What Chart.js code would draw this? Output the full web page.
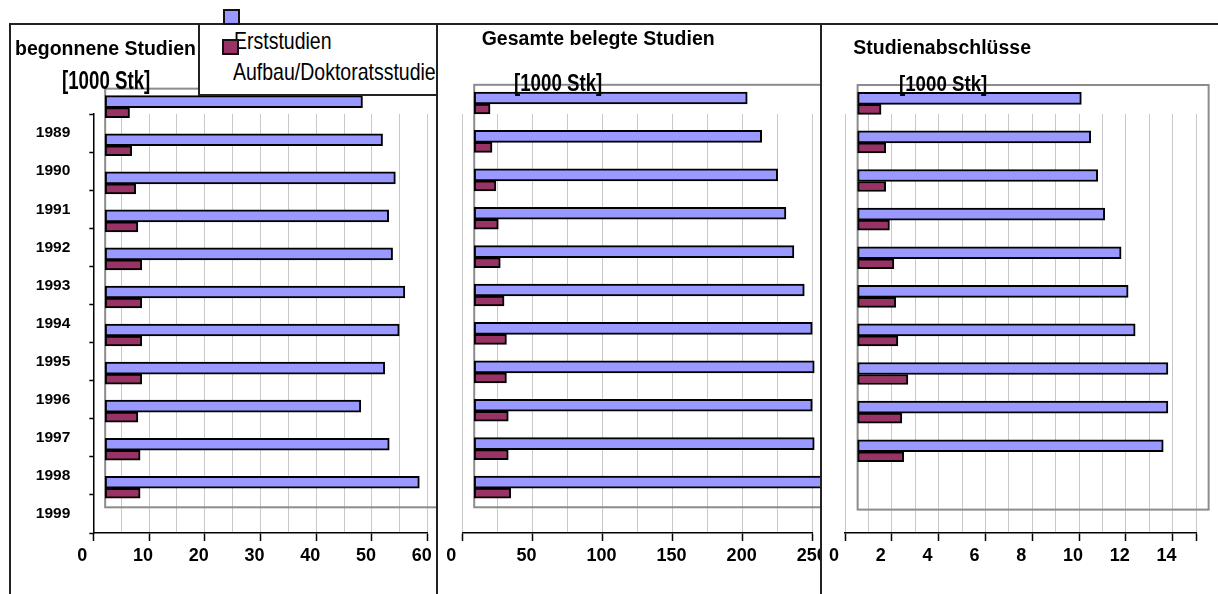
<!DOCTYPE html>
<html>
<head>
<meta charset="utf-8">
<script src="https://cdn.jsdelivr.net/npm/chart.js@4.4.1/dist/chart.umd.min.js"></script>
<style>
  html, body { margin: 0; padding: 0; background: #fff; }
  body { width: 1218px; height: 594px; position: relative; overflow: hidden; font-family: 'Liberation Sans', Arial, sans-serif; }
  .panel { position: absolute; top: 25px; height: 569px; overflow: hidden; }
  .panel canvas { position: absolute; top: -25px; }
  .line { position: absolute; background: #222; z-index: 3; }
  .txt { position: absolute; white-space: nowrap; line-height: 1; transform-origin: 0 0; color: #000; z-index: 5; }
  .title { font-weight: bold; font-size: 19.5px; transform: scaleY(1.08); }
  .unit { font-weight: bold; font-size: 18.7px; }
  #legend { position: absolute; left: 198px; top: 24px; width: 239px; height: 72px; background: #fff;
            border-left: 2px solid #222; border-bottom: 2px solid #222; box-sizing: border-box; overflow: hidden; z-index: 2; }
  #legend .txt { font-size: 19.5px; transform: scaleY(1.2); }
  .mark { position: absolute; width: 17px; height: 16px; box-sizing: border-box; border: 2px solid #111; z-index: 4; }
</style>
</head>
<body>

<div class="panel" style="left:11px; width:425px;"><canvas id="c1" width="1218" height="594" style="left:-11px"></canvas></div>
<div class="panel" style="left:438px; width:382px;"><canvas id="c2" width="1218" height="594" style="left:-438px"></canvas></div>
<div class="panel" style="left:822px; width:396px;"><canvas id="c3" width="1218" height="594" style="left:-822px"></canvas></div>

<div class="line" style="left:9px; top:23px; width:1209px; height:2px;"></div>
<div class="line" style="left:9px; top:23px; width:2px; height:571px;"></div>
<div class="line" style="left:436px; top:23px; width:2px; height:571px;"></div>
<div class="line" style="left:820px; top:23px; width:2px; height:571px;"></div>

<div id="legend">
  <div class="txt" id="leg0" style="left:34px; top:6px;"></div>
  <div class="txt" id="leg1" style="left:33px; top:37px;"></div>
</div>
<div class="mark" style="left:223px; top:9px; background:#9999ff;"></div>
<div class="mark" style="left:222px; top:39px; background:#993366;"></div>

<div class="txt title" style="left:15px; top:37.7px;">begonnene Studien</div>
<div class="txt unit" style="left:62px; top:67.5px; transform:scaleY(1.38);">[1000 Stk]</div>
<div class="txt title" style="left:481.7px; top:28.2px;">Gesamte belegte Studien</div>
<div class="txt unit" style="left:514px; top:71.9px; transform:scaleY(1.25);">[1000 Stk]</div>
<div class="txt title" style="left:853.3px; top:36.7px;">Studienabschlüsse</div>
<div class="txt unit" style="left:899px; top:73.4px; transform:scaleY(1.22);">[1000 Stk]</div>

<script>
const years = ['1989', '1990', '1991', '1992', '1993', '1994', '1995', '1996', '1997', '1998', '1999'];
const seriesNames = ['Erststudien', 'Aufbau/Doktoratsstudie'];

// begonnene Studien [1000 Stk]
const begonnenErst = [48.3, 51.9, 54.2, 53.0, 53.7, 55.9, 54.9, 52.3, 48.0, 53.1, 58.5];
const begonnenAufbau = [6.5, 6.9, 7.6, 8.0, 8.7, 8.7, 8.7, 8.7, 8.0, 8.4, 8.4];

// Gesamte belegte Studien [1000 Stk]
const belegtErst = [203.3, 213.6, 225.0, 230.9, 236.6, 244.0, 249.7, 251.1, 249.7, 251.1, 262];
const belegtAufbau = [19.8, 21.2, 24.0, 25.7, 27.1, 29.8, 31.5, 31.5, 32.8, 32.8, 34.5];

// Studienabschlüsse [1000 Stk]
const abschlussErst = [10.1, 10.5, 10.8, 11.1, 11.8, 12.1, 12.4, 13.8, 13.8, 13.6, null];
const abschlussAufbau = [1.54, 1.74, 1.74, 1.9, 2.09, 2.17, 2.26, 2.69, 2.43, 2.51, null];

const FONT = "'Liberation Sans', Arial, sans-serif";
const colors = ['#9999ff', '#993366'];

document.getElementById('leg0').textContent = seriesNames[0];
document.getElementById('leg1').textContent = seriesNames[1];

// grey back wall behind the bars (pseudo 3D depth)
const wallPlugin = {
    id: 'wall',
    beforeDatasetsDraw(chart, args, opts) {
        const {ctx, chartArea, scales} = chart;
        const left = scales.x.getPixelForValue(opts.base);
        const right = scales.x.getPixelForValue(scales.x.max) + (left - chartArea.left);
        const top = scales.yb.getPixelForValue(-0.5);
        const bottom = scales.yb.getPixelForValue(years.length - 0.5);
        ctx.save();
        ctx.strokeStyle = '#8c8c8c';
        ctx.lineWidth = 2;
        ctx.strokeRect(left, top, right - left, bottom - top);
        ctx.restore();
    }
};

function toPoints(values) {
    return values.map((v, i) => ({x: v, y: i})).filter(p => p.x !== null);
}

function makePanel(id, first, second, o) {
    const yWidth = o.showYears ? 80 : 0;
    const scales = {
        x: {
            type: 'linear', position: 'bottom', min: 0, max: o.max,
            grid: {
                color: '#c8c8c8', lineWidth: 1, tickLength: 8, tickWidth: 1.5,
                tickColor: c => (c.tick && (c.tick.value % o.labelStep === 0 || c.tick.value === o.max)) ? '#000' : 'rgba(0,0,0,0)'
            },
            border: { display: true, color: '#000', width: 1.5 },
            ticks: {
                stepSize: o.gridStep, autoSkip: false, maxRotation: 0, align: 'start', labelOffset: -16, padding: 4,
                color: '#000', font: { family: FONT, size: 18, weight: 'bold' },
                callback: v => v % o.labelStep === 0 ? v : ''
            },
            afterFit: s => { s.height = 40; s.paddingLeft = 0; s.paddingRight = 0; }
        },
        yb: {
            type: 'linear', axis: 'y', position: 'left', display: false, reverse: true,
            offset: false, grid: { offset: false },
            min: o.ybMin, max: o.ybMax,
            ticks: { stepSize: 1, includeBounds: false }
        }
    };
    if (o.showYears) {
        scales.y = {
            type: 'category', position: 'left', offset: true, z: 1,
            grid: { offset: true, drawOnChartArea: false, tickLength: 4, tickColor: '#000', tickWidth: 1.5 },
            border: { display: true, color: '#000', width: 1.5 },
            ticks: { padding: 19, autoSkip: false, color: '#000', font: { family: FONT, size: 15.5, weight: 'bold' } },
            afterFit: s => { s.width = yWidth; s.paddingTop = 0; s.paddingBottom = 0; }
        };
    }
    const ds = (label, values, color, thick) => ({
        label: label,
        data: toPoints(values),
        xAxisID: 'x', yAxisID: 'yb',
        base: o.base,
        backgroundColor: color,
        borderColor: '#000',
        borderWidth: 2,
        borderSkipped: false,
        barThickness: thick,
        clip: false
    });
    new Chart(document.getElementById(id), {
        type: 'bar',
        data: {
            labels: years,
            datasets: [
                ds(seriesNames[0], first, colors[0], 12),
                ds(seriesNames[1], second, colors[1], 10)
            ]
        },
        options: {
            indexAxis: 'y',
            responsive: false,
            animation: false,
            events: [],
            layout: { padding: { left: o.chartLeft - yWidth, right: 1218 - o.chartRight, top: 114, bottom: 21 } },
            scales: scales,
            plugins: {
                legend: { display: false },
                tooltip: { enabled: false },
                wall: { base: o.base }
            }
        },
        plugins: [wallPlugin]
    });
}

makePanel('c1', begonnenErst, begonnenAufbau,
    { max: 60, gridStep: 5, labelStep: 10, chartLeft: 93.3, chartRight: 427.7, base: 2.13, ybMin: 0.166, ybMax: 11.175, showYears: true });
makePanel('c2', belegtErst, belegtAufbau,
    { max: 250, gridStep: 25, labelStep: 50, chartLeft: 462.3, chartRight: 812.7, base: 8.5, ybMin: 0.26, ybMax: 11.17, showYears: false });
makePanel('c3', abschlussErst, abschlussAufbau,
    { max: 15, gridStep: 1, labelStep: 2, chartLeft: 845, chartRight: 1196, base: 0.54, ybMin: 0.251, ybMax: 11.106, showYears: false });
</script>
</body>
</html>
